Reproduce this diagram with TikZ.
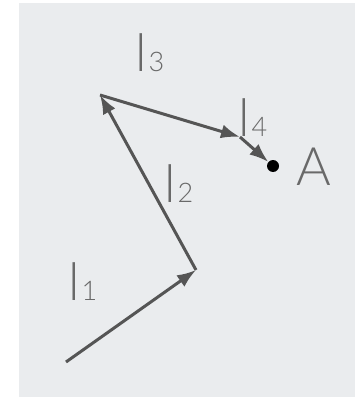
\documentclass[tikz,border=0pt]{standalone}
\usepackage{fontspec}
\setmainfont{Lato}[UprightFont=* Light]
\usetikzlibrary{arrows.meta}
\definecolor{bggray}{RGB}{234,236,238}
\definecolor{vecgray}{RGB}{85,85,85}
\definecolor{labgray}{RGB}{105,105,105}
\newcommand{\lbl}[1]{\fontsize{52}{52}\selectfont l\hspace{2pt}{\fontsize{27}{27}\selectfont #1}}

\begin{document}
\begin{tikzpicture}[x=1pt,y=-1pt,
        vec/.style={draw=vecgray,line width=3pt,-{Latex[length=19pt,width=14pt]}},
        lab/.style={anchor=base west,inner sep=0pt,text=labgray}]
            \useasboundingbox (0,0) rectangle (355,398);
            \fill[bggray] (19,3) rectangle (355,397);

            \coordinate (O) at (66,362);
            \coordinate (B) at (196,270);
            \coordinate (C) at (100,95);
            \coordinate (D) at (240,137);
            \node[circle,fill=black,inner sep=0pt,minimum size=12pt] (A) at (273,166) {};

            \node[lab] (l1) at (68,300) {\lbl{1}};
            \node[lab] (l2) at (164,202) {\lbl{2}};
            \node[lab] (l3) at (135,72) {\lbl{3}};
            \node[lab] (l4) at (238,136) {\lbl{4}};
            \node[lab,font=\fontsize{53}{53}\selectfont] (lA) at (296,185) {A};

            \draw[vec] (O)--(B);
            \draw[vec] (B)--(C);
            \draw[vec] (C)--(D);
            \draw[vec] (D)--(A);
        \end{tikzpicture}
\end{document}
